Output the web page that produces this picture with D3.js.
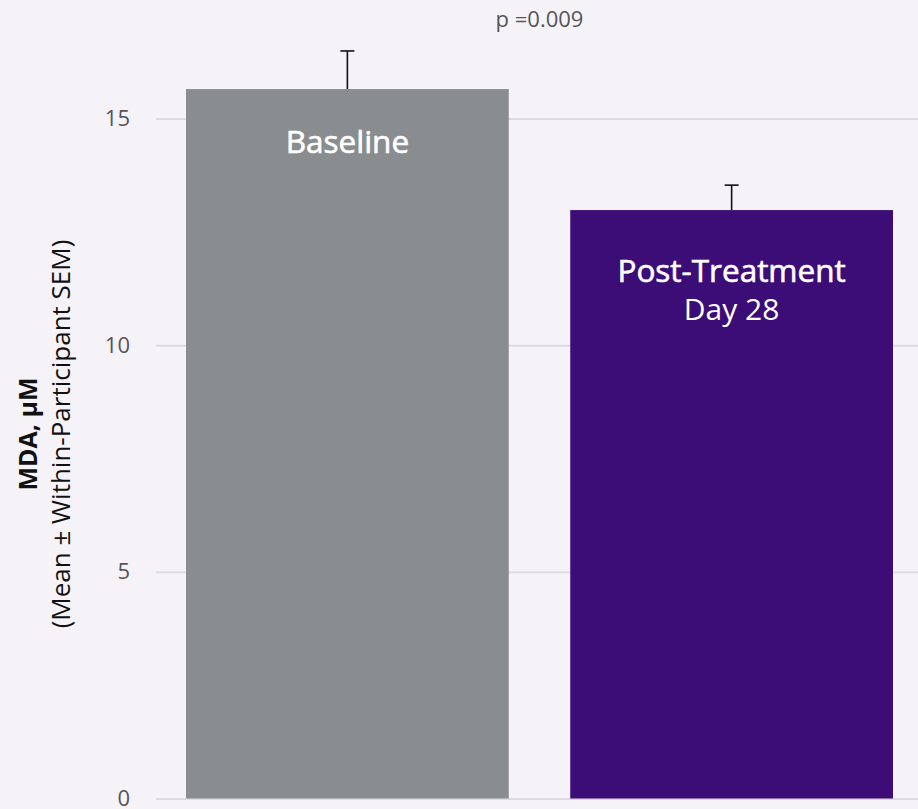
<!DOCTYPE html>
<html>
<head>
<meta charset="utf-8">
<script src="https://cdn.jsdelivr.net/npm/d3@7"></script>
<style>
  html, body { margin: 0; padding: 0; background: #f5f3f8; }
  .chart { width: 918px; height: 809px; }
  text { font-family: "Open Sans", "Noto Sans", sans-serif; }
</style>
</head>
<body>
<div class="chart"></div>
<script>
// data
const groups = ["Baseline", "Post-Treatment"];
const subLabels = ["", "Day 28"];
const means = [15.65, 12.98];
const sems = [0.84, 0.55];
const barColors = ["#8a8d90", "#3d0d77"];
const yTicks = [0, 5, 10, 15];
const pLabel = "p =0.009";

let outWidth = 918, outHeight = 809;
let plotLeft = 156, plotRight = 918;

const svg = d3.select('.chart').append('svg')
  .attr("width", outWidth)
  .attr("height", outHeight);

svg.append("rect")
  .attr("width", outWidth).attr("height", outHeight)
  .attr("fill", "#f5f3f8");

const xScale = d3.scaleBand()
  .domain(groups)
  .range([186, 893])
  .paddingInner(0.16)
  .paddingOuter(0);

const yScale = d3.scaleLinear()
  .domain([0, 15])
  .range([798.5, 118.5]);

// gridlines + tick labels
const yAxis = d3.axisLeft(yScale)
  .tickValues(yTicks)
  .tickSize(-(plotRight - plotLeft))
  .tickPadding(26);

const ga = svg.append("g")
  .attr("class", "axis y-axis")
  .attr("transform", `translate(${plotLeft},0)`)
  .call(yAxis);
ga.select(".domain").remove();
ga.selectAll(".tick line")
  .attr("stroke", "#dddbe1")
  .attr("stroke-width", 2);
ga.selectAll(".tick text")
  .attr("fill", "#555558")
  .style("font-size", "22px")
  .style("font-family", "'Open Sans', sans-serif");

// bars
svg.selectAll("rect.bar")
  .data(groups)
  .enter()
  .append("rect")
  .attr("class", "bar")
  .attr("x", d => xScale(d))
  .attr("y", (d, i) => yScale(means[i]))
  .attr("width", xScale.bandwidth())
  .attr("height", (d, i) => yScale(0) - yScale(means[i]))
  .attr("fill", (d, i) => barColors[i]);

// error bars (upper only)
const eb = svg.selectAll("g.err")
  .data(groups)
  .enter()
  .append("g")
  .attr("class", "err");
eb.append("line")
  .attr("x1", d => xScale(d) + xScale.bandwidth() / 2)
  .attr("x2", d => xScale(d) + xScale.bandwidth() / 2)
  .attr("y1", (d, i) => yScale(means[i] + sems[i]))
  .attr("y2", (d, i) => yScale(means[i]))
  .attr("stroke", "#111")
  .attr("stroke-width", 1.6);
eb.append("line")
  .attr("x1", d => xScale(d) + xScale.bandwidth() / 2 - 7)
  .attr("x2", d => xScale(d) + xScale.bandwidth() / 2 + 7)
  .attr("y1", (d, i) => yScale(means[i] + sems[i]))
  .attr("y2", (d, i) => yScale(means[i] + sems[i]))
  .attr("stroke", "#111")
  .attr("stroke-width", 1.6);

// labels inside bars (medium weight faked with a thin stroke)
svg.selectAll("text.blabel")
  .data(groups)
  .enter()
  .append("text")
  .attr("class", "blabel")
  .attr("x", d => xScale(d) + xScale.bandwidth() / 2)
  .attr("y", (d, i) => yScale(means[i]) + (subLabels[i] ? 72 : 64))
  .attr("text-anchor", "middle")
  .attr("fill", "#fff")
  .attr("stroke", "#fff")
  .attr("stroke-width", 0.6)
  .style("font-size", "31.5px")
  .style("font-weight", 400)
  .text(d => d);

svg.selectAll("text.sublabel")
  .data(groups)
  .enter()
  .append("text")
  .attr("class", "sublabel")
  .attr("x", d => xScale(d) + xScale.bandwidth() / 2)
  .attr("y", (d, i) => yScale(means[i]) + 110)
  .attr("text-anchor", "middle")
  .attr("fill", "#fff")
  .style("font-size", "30px")
  .style("font-weight", 400)
  .text((d, i) => subLabels[i]);

// p-value
let midX = (xScale(groups[0]) + xScale(groups[1]) + xScale.bandwidth()) / 2;
svg.append("text")
  .attr("x", midX)
  .attr("y", 27)
  .attr("text-anchor", "middle")
  .attr("fill", "#555558")
  .style("font-size", "22px")
  .text(pLabel);

// y axis title
const title = svg.append("text")
  .attr("transform", "translate(0,434) rotate(-90)")
  .attr("text-anchor", "middle")
  .attr("fill", "#111");
title.append("tspan")
  .attr("x", 0).attr("y", 37)
  .style("font-size", "25px")
  .style("font-weight", 700)
  .text("MDA, μM");
title.append("tspan")
  .attr("x", 0).attr("y", 70)
  .style("font-size", "26px")
  .style("font-weight", 400)
  .text("(Mean ± Within-Participant SEM)");
</script>
</body>
</html>
